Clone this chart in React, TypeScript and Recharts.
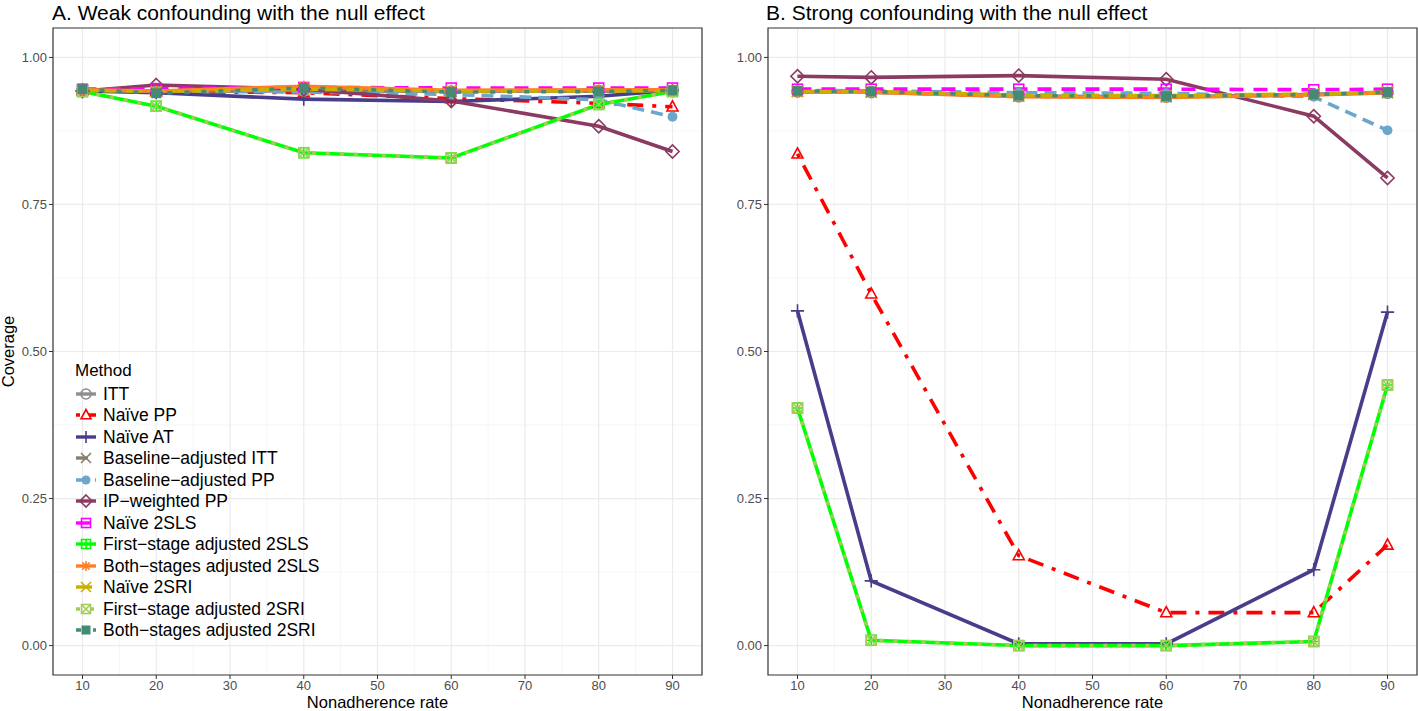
import {
  LineChart,
  Line,
  XAxis,
  YAxis,
  CartesianGrid,
  ReferenceArea,
  Legend
} from 'recharts'

// nonadherence rates on the x axis
const rates = [10, 20, 40, 60, 80, 90]

// A. weak confounding
const weakITT = [0.944, 0.942, 0.944, 0.942, 0.943, 0.943]
const weakNaivePP = [0.944, 0.942, 0.94, 0.93, 0.922, 0.916]
const weakNaiveAT = [0.943, 0.94, 0.929, 0.925, 0.934, 0.944]
const weakBaseITT = [0.944, 0.942, 0.944, 0.942, 0.943, 0.943]
const weakBasePP = [0.945, 0.943, 0.941, 0.937, 0.928, 0.899]
const weakIPW = [0.943, 0.953, 0.946, 0.926, 0.883, 0.84]
const weakNaive2SLS = [0.946, 0.947, 0.949, 0.948, 0.948, 0.948]
const weakFirst2SLS = [0.942, 0.917, 0.838, 0.829, 0.92, 0.942]
const weakBoth2SLS = [0.945, 0.943, 0.951, 0.944, 0.945, 0.945]
const weakNaive2SRI = [0.944, 0.942, 0.946, 0.943, 0.943, 0.943]
const weakFirst2SRI = [0.942, 0.917, 0.838, 0.829, 0.92, 0.942]
const weakBoth2SRI = [0.946, 0.939, 0.948, 0.941, 0.942, 0.944]

// B. strong confounding
const strongITT = [0.942, 0.941, 0.934, 0.933, 0.937, 0.94]
const strongNaivePP = [0.836, 0.598, 0.153, 0.056, 0.056, 0.171]
const strongNaiveAT = [0.569, 0.11, 0.003, 0.003, 0.129, 0.567]
const strongBaseITT = [0.942, 0.941, 0.934, 0.933, 0.937, 0.94]
const strongBasePP = [0.944, 0.943, 0.94, 0.939, 0.933, 0.876]
const strongIPW = [0.968, 0.966, 0.969, 0.963, 0.9, 0.795]
const strongNaive2SLS = [0.946, 0.946, 0.946, 0.946, 0.945, 0.946]
const strongFirst2SLS = [0.404, 0.009, 0.0, 0.0, 0.007, 0.443]
const strongBoth2SLS = [0.941, 0.941, 0.933, 0.932, 0.936, 0.94]
const strongNaive2SRI = [0.942, 0.942, 0.936, 0.935, 0.938, 0.941]
const strongFirst2SRI = [0.404, 0.009, 0.0, 0.0, 0.007, 0.443]
const strongBoth2SRI = [0.943, 0.942, 0.935, 0.934, 0.937, 0.941]

const majorX = [10, 20, 30, 40, 50, 60, 70, 80, 90]
const minorX = [15, 25, 35, 45, 55, 65, 75, 85]
const majorY = [0, 0.25, 0.5, 0.75, 1]
const minorY = [0.125, 0.375, 0.625, 0.875]

const series = [
  { key: 'itt', name: 'ITT', color: '#8e8e8e', dash: undefined, shape: 'circle' },
  { key: 'naivePP', name: 'Naïve PP', color: '#ff0000', dash: '4 9 16 9', shape: 'triangle' },
  { key: 'naiveAT', name: 'Naïve AT', color: '#483d8b', dash: undefined, shape: 'plus' },
  { key: 'baseITT', name: 'Baseline−adjusted ITT', color: '#8b7d6b', dash: '12 8', shape: 'cross' },
  { key: 'basePP', name: 'Baseline−adjusted PP', color: '#6ca6cd', dash: '12 7', shape: 'dot' },
  { key: 'ipw', name: 'IP−weighted PP', color: '#8b3a62', dash: undefined, shape: 'diamond' },
  { key: 'naive2SLS', name: 'Naïve 2SLS', color: '#ff00ff', dash: '14 10', shape: 'square' },
  { key: 'first2SLS', name: 'First−stage adjusted 2SLS', color: '#00ff00', dash: undefined, shape: 'squarePlus' },
  { key: 'both2SLS', name: 'Both−stages adjusted 2SLS', color: '#ff7f24', dash: undefined, shape: 'star' },
  { key: 'naive2SRI', name: 'Naïve 2SRI', color: '#cdad00', dash: '16 6', shape: 'cross' },
  { key: 'first2SRI', name: 'First−stage adjusted 2SRI', color: '#a2cd5a', dash: '4 10', shape: 'squareCross' },
  { key: 'both2SRI', name: 'Both−stages adjusted 2SRI', color: '#458b74', dash: '5 12', shape: 'squareFill' }
]

const weakValues: Record<string, number[]> = {
  itt: weakITT, naivePP: weakNaivePP, naiveAT: weakNaiveAT, baseITT: weakBaseITT,
  basePP: weakBasePP, ipw: weakIPW, naive2SLS: weakNaive2SLS, first2SLS: weakFirst2SLS,
  both2SLS: weakBoth2SLS, naive2SRI: weakNaive2SRI, first2SRI: weakFirst2SRI, both2SRI: weakBoth2SRI
}
const strongValues: Record<string, number[]> = {
  itt: strongITT, naivePP: strongNaivePP, naiveAT: strongNaiveAT, baseITT: strongBaseITT,
  basePP: strongBasePP, ipw: strongIPW, naive2SLS: strongNaive2SLS, first2SLS: strongFirst2SLS,
  both2SLS: strongBoth2SLS, naive2SRI: strongNaive2SRI, first2SRI: strongFirst2SRI, both2SRI: strongBoth2SRI
}

const toRows = (vals: Record<string, number[]>) =>
  rates.map((r, i) => {
    const row: any = { rate: r }
    series.forEach(s => { row[s.key] = vals[s.key][i] })
    return row
  })

const weakData = toRows(weakValues)
const strongData = toRows(strongValues)

const FONT = '"Liberation Sans", Arial, Helvetica, sans-serif'

function Marker({ shape, color, cx, cy, r = 5.5 }: any) {
  const sw = 1.6
  const sq = r * 0.9
  switch (shape) {
    case 'circle':
      return <circle cx={cx} cy={cy} r={r} fill="none" stroke={color} strokeWidth={sw} />
    case 'triangle':
      return (
        <path
          d={`M${cx},${cy - r * 1.1} L${cx + r},${cy + r * 0.75} L${cx - r},${cy + r * 0.75} Z`}
          fill="none" stroke={color} strokeWidth={sw}
        />
      )
    case 'plus':
      return (
        <path d={`M${cx - r * 1.2},${cy} H${cx + r * 1.2} M${cx},${cy - r * 1.2} V${cy + r * 1.2}`}
          stroke={color} strokeWidth={sw} />
      )
    case 'cross':
      return (
        <path d={`M${cx - r},${cy - r} L${cx + r},${cy + r} M${cx - r},${cy + r} L${cx + r},${cy - r}`}
          stroke={color} strokeWidth={sw} />
      )
    case 'dot':
      return <circle cx={cx} cy={cy} r={r * 0.9} fill={color} />
    case 'diamond':
      return (
        <path d={`M${cx},${cy - r * 1.2} L${cx + r * 1.2},${cy} L${cx},${cy + r * 1.2} L${cx - r * 1.2},${cy} Z`}
          fill="none" stroke={color} strokeWidth={sw} />
      )
    case 'square':
      return <rect x={cx - sq} y={cy - sq} width={sq * 2} height={sq * 2} fill="none" stroke={color} strokeWidth={sw} />
    case 'squarePlus':
      return (
        <g stroke={color} strokeWidth={sw} fill="none">
          <rect x={cx - sq} y={cy - sq} width={sq * 2} height={sq * 2} />
          <path d={`M${cx - sq},${cy} H${cx + sq} M${cx},${cy - sq} V${cy + sq}`} />
        </g>
      )
    case 'star':
      return (
        <path
          d={`M${cx - r},${cy} H${cx + r} M${cx},${cy - r} V${cy + r} M${cx - r * 0.75},${cy - r * 0.75} L${cx + r * 0.75},${cy + r * 0.75} M${cx - r * 0.75},${cy + r * 0.75} L${cx + r * 0.75},${cy - r * 0.75}`}
          stroke={color} strokeWidth={sw}
        />
      )
    case 'squareCross':
      return (
        <g stroke={color} strokeWidth={sw} fill="none">
          <rect x={cx - sq} y={cy - sq} width={sq * 2} height={sq * 2} />
          <path d={`M${cx - sq},${cy - sq} L${cx + sq},${cy + sq} M${cx - sq},${cy + sq} L${cx + sq},${cy - sq}`} />
        </g>
      )
    case 'squareFill':
      return <rect x={cx - sq} y={cy - sq} width={sq * 2} height={sq * 2} fill={color} />
    default:
      return null
  }
}

// keep the legend in series order (Recharts sorts the payload by name)
function MethodLegend({ payload }: any) {
  const shown = new Set((payload || []).map((p: any) => p.dataKey))
  return (
    <div style={{ fontFamily: FONT, color: '#000' }}>
      <div style={{ fontSize: 17, height: 22, marginLeft: 2 }}>Method</div>
      {series.filter(s => shown.has(s.key)).map(s => (
        <div key={s.key} style={{ display: 'flex', alignItems: 'center', height: 21.5 }}>
          <svg width={22} height={18} style={{ marginRight: 6, marginLeft: 2 }}>
            <line x1={1} x2={21} y1={9} y2={9} stroke={s.color} strokeWidth={3.4} strokeDasharray={s.dash} />
            <Marker shape={s.shape} color={s.color} cx={11} cy={9} r={5} />
          </svg>
          <span style={{ fontSize: 17.5, lineHeight: '18px' }}>{s.name}</span>
        </div>
      ))}
    </div>
  )
}

interface PanelProps {
  data: any[]
  width: number
  marginLeft: number
  marginRight: number
  yLabel?: boolean
  legend?: boolean
}

function Panel({ data, width, marginLeft, marginRight, yLabel, legend }: PanelProps) {
  return (
    <LineChart
      width={width}
      height={711}
      data={data}
      margin={{ top: 28, right: marginRight, bottom: 0, left: marginLeft }}
      style={{ fontFamily: FONT }}
    >
      <CartesianGrid verticalValues={minorX} horizontalValues={minorY} stroke="#f2f2f2" strokeWidth={0.7} />
      <CartesianGrid verticalValues={majorX} horizontalValues={majorY} stroke="#ebebeb" strokeWidth={1.2} />
      <XAxis
        dataKey="rate"
        type="number"
        domain={[6, 94]}
        ticks={majorX}
        allowDataOverflow
        height={36}
        axisLine={false}
        tickLine={{ stroke: '#333333' }}
        tickSize={4}
        tickMargin={2}
        tick={{ fontSize: 13, fill: '#4d4d4d' }}
        interval={0}
        label={{ value: 'Nonadherence rate', position: 'insideBottom', offset: 3, fontSize: 16.5, fill: '#000' }}
      />
      <YAxis
        type="number"
        domain={[-0.05, 1.05]}
        ticks={majorY}
        allowDataOverflow
        width={45}
        axisLine={false}
        tickLine={{ stroke: '#333333' }}
        tickSize={4}
        tickMargin={2}
        interval={0}
        tick={{ fontSize: 13, fill: '#4d4d4d' }}
        tickFormatter={(v: number) => v.toFixed(2)}
        label={
          yLabel
            ? { value: 'Coverage', angle: -90, position: 'insideLeft', offset: 0, fontSize: 16.5, fill: '#000', style: { textAnchor: 'middle' } }
            : undefined
        }
      />
      {series.map(s => (
        <Line
          key={s.key}
          dataKey={s.key}
          name={s.name}
          type="linear"
          stroke={s.color}
          strokeWidth={3.6}
          strokeDasharray={s.dash}
          isAnimationActive={false}
          activeDot={false}
          dot={(p: any) => <Marker key={`${s.key}-${p.index}`} shape={s.shape} color={s.color} cx={p.cx} cy={p.cy} />}
        />
      ))}
      <ReferenceArea x1={6} x2={94} y1={-0.05} y2={1.05} fill="none" stroke="#333333" strokeWidth={1.2} ifOverflow="visible" />
      {legend && (
        <Legend
          layout="vertical"
          align="center"
          verticalAlign="middle"
          wrapperStyle={{ left: 73, top: 361, width: 300 }}
          content={<MethodLegend />}
        />
      )}
    </LineChart>
  )
}

export default function App() {
  const titleStyle: React.CSSProperties = {
    position: 'absolute',
    top: 1,
    fontSize: 21,
    lineHeight: '24px',
    fontFamily: FONT,
    color: '#000',
    whiteSpace: 'nowrap'
  }
  return (
    <div style={{ position: 'absolute', left: 0, top: 0, width: 1418, height: 711, background: '#fff' }}>
      <div style={{ position: 'absolute', left: 0, top: 0 }}>
        <Panel data={weakData} width={710} marginLeft={8} marginRight={8} yLabel legend />
      </div>
      <div style={{ position: 'absolute', left: 710, top: 0 }}>
        <Panel data={strongData} width={708} marginLeft={13} marginRight={1} />
      </div>
      <div style={{ ...titleStyle, left: 52 }}>A. Weak confounding with the null effect</div>
      <div style={{ ...titleStyle, left: 766 }}>B. Strong confounding with the null effect</div>
    </div>
  )
}
